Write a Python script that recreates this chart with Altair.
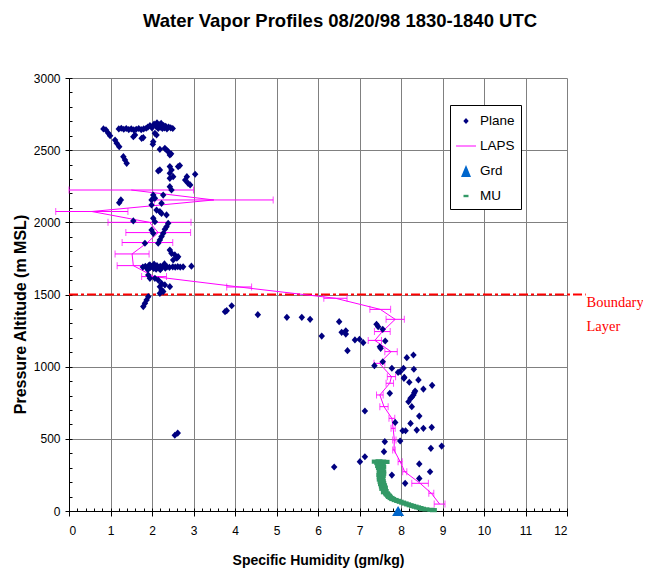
import altair as alt
import pandas as pd

FONT = "Liberation Sans"

series = ["Plane", "LAPS", "Grd", "MU"]
series_colors = ["#000080", "#FF00FF", "#0066CC", "#339966"]

x_ticks = list(range(0, 13))
y_ticks = list(range(0, 3001, 500))
x_minor = [round(i * 0.2, 1) for i in range(0, 61)]
y_minor = list(range(0, 3001, 100))
boundary_alt = 1500

plane_pts = [
    (0.83, 2647), (0.89, 2640), (0.95, 2617), (0.99, 2600),
    (1.11, 2570), (1.15, 2548), (1.21, 2524),
    (1.31, 2455), (1.35, 2432), (1.39, 2409),
    (1.20, 2647), (1.26, 2652), (1.32, 2645), (1.38, 2650), (1.44, 2643), (1.50, 2648),
    (1.56, 2640), (1.62, 2645), (1.68, 2650), (1.74, 2642), (1.80, 2648), (1.86, 2652),
    (1.90, 2660), (1.95, 2670), (2.00, 2655), (2.05, 2680), (2.10, 2665), (2.12, 2690),
    (2.15, 2650), (2.18, 2675), (2.20, 2660), (2.22, 2685), (2.25, 2650), (2.28, 2670),
    (2.30, 2655), (2.33, 2665), (2.36, 2648), (2.40, 2660), (2.45, 2655), (2.50, 2650),
    (1.59, 2605), (1.75, 2582), (1.79, 2587), (1.55, 2593), (2.07, 2617), (2.11, 2605),
    (2.03, 2559), (2.02, 2541),
    (2.19, 2506), (2.31, 2513), (2.39, 2490), (2.43, 2467), (2.35, 2501), (2.46, 2475),
    (2.15, 2356), (2.43, 2386), (2.47, 2363), (2.51, 2316), (2.63, 2386), (2.67, 2393),
    (2.43, 2247), (2.84, 2316), (2.80, 2293), (2.87, 2270), (2.92, 2259), (3.04, 2333),
    (2.43, 2340), (2.43, 2305), (2.19, 2363),
    (1.25, 2155), (1.21, 2136), (2.47, 2224), (2.03, 2189), (2.07, 2166), (2.27, 2189),
    (2.23, 2132), (1.99, 2155), (1.99, 2120), (2.11, 2085), (2.19, 2074), (2.23, 2062),
    (2.35, 2051), (2.03, 2028), (2.07, 2004), (1.55, 2010), (2.39, 1993), (2.35, 1970),
    (2.31, 1952), (2.27, 1924), (2.23, 1901), (2.19, 1878), (2.15, 1855), (1.99, 1947),
    (2.03, 1924), (1.83, 1855), (2.43, 1808), (2.47, 1785), (2.55, 1774), (2.63, 1762),
    (2.60, 1751), (2.51, 1739),
    (1.78, 1690), (1.84, 1695), (1.88, 1683), (1.92, 1700), (1.96, 1688), (2.00, 1695),
    (2.04, 1680), (2.08, 1692), (2.12, 1700), (2.16, 1685), (2.20, 1695), (2.24, 1688),
    (2.28, 1700), (2.32, 1683), (2.36, 1692), (2.42, 1688), (2.50, 1692), (2.56, 1690),
    (2.62, 1693), (2.68, 1690), (2.75, 1692), (2.95, 1696), (1.95, 1705), (2.05, 1710),
    (2.10, 1675), (2.20, 1672), (1.90, 1672), (2.30, 1712),
    (1.91, 1635), (1.95, 1612), (2.07, 1612), (2.15, 1600), (2.23, 1577), (2.19, 1554),
    (2.31, 1566), (2.43, 1554), (2.23, 1531), (2.19, 1508), (2.27, 1520),
    (1.91, 1485), (1.87, 1462), (1.83, 1439), (1.79, 1416),
    (3.76, 1381), (3.80, 1388), (3.92, 1422), (4.55, 1360), (5.25, 1342), (5.61, 1342),
    (5.81, 1328), (6.09, 1212), (6.51, 1312), (6.57, 1238), (6.67, 1249), (6.67, 1226),
    (6.71, 1111), (6.89, 1185), (7.00, 1190),
    (7.41, 1294), (7.45, 1277), (7.56, 1259), (7.62, 1178), (7.49, 1138), (7.51, 1127),
    (7.56, 1034), (7.36, 1007), (7.78, 989), (7.93, 961), (8.06, 989), (8.14, 1062),
    (8.30, 1081), (8.31, 982), (8.08, 926), (8.20, 892), (8.42, 908), (8.54, 845),
    (8.75, 871), (8.34, 831), (8.30, 804), (8.26, 788), (7.73, 815), (8.18, 757),
    (8.26, 723), (7.09, 1166), (7.98, 965), (8.07, 919), (8.32, 820), (8.23, 781),
    (7.13, 693), (8.44, 658), (8.23, 607), (7.86, 614), (8.04, 556), (8.11, 556),
    (8.38, 561), (8.54, 573), (8.74, 580), (7.61, 480), (7.98, 485), (7.59, 411),
    (7.13, 376), (7.01, 342), (8.72, 434), (8.98, 450), (8.44, 326), (8.70, 272),
    (7.78, 249), (8.44, 226), (8.10, 192), (6.39, 305), (2.55, 525), (2.62, 540),
]
plane_x = [p[0] for p in plane_pts]
plane_y = [p[1] for p in plane_pts]

laps_alt = [2224, 2155, 2075, 2000, 1929, 1860, 1781, 1700, 1624, 1552, 1474, 1397, 1328,
            1243, 1182, 1104, 1023, 931, 885, 804, 723, 642, 573, 492, 423, 342, 272, 192,
            123, 48]
laps_q = [1.50, 3.49, 0.55, 1.94, 2.15, 1.89, 1.52, 1.55, 2.05, 4.10, 6.42, 7.50, 7.86,
          7.55, 7.37, 7.76, 7.48, 7.77, 7.73, 7.49, 7.59, 7.78, 7.81, 7.84, 7.83, 7.98,
          8.09, 8.46, 8.73, 8.93]
laps_err = [1.50, 1.43, 0.87, 1.00, 0.78, 0.61, 0.41, 0.39, 0.30, 0.30, 0.28, 0.25, 0.22,
            0.19, 0.16, 0.15, 0.13, 0.10, 0.09, 0.08, 0.10, 0.07, 0.05, 0.04, 0.03, 0.05,
            0.05, 0.20, 0.06, 0.13]

mu_pts = [
    (7.38, 342), (7.47, 344), (7.56, 342), (7.64, 340),
    (7.44, 332), (7.55, 328), (7.50, 320), (7.46, 312), (7.56, 306),
    (7.48, 298), (7.54, 290), (7.50, 282), (7.56, 274),
    (7.50, 266), (7.56, 258), (7.49, 250), (7.55, 242), (7.50, 234),
    (7.53, 226), (7.50, 218), (7.55, 210), (7.52, 202), (7.56, 194),
    (7.53, 186), (7.58, 178), (7.55, 170), (7.60, 162), (7.56, 154),
    (7.60, 146), (7.62, 138), (7.60, 130), (7.65, 122), (7.67, 114),
    (7.70, 106), (7.72, 98), (7.76, 90), (7.80, 83), (7.86, 76),
    (7.92, 70), (7.98, 64), (8.04, 58), (8.10, 52), (8.16, 46),
    (8.22, 40), (8.28, 35), (8.34, 30), (8.40, 25), (8.46, 20),
    (8.52, 15), (8.60, 11), (8.72, 8), (8.78, 6),
]
mu_x = [p[0] for p in mu_pts]
mu_y = [p[1] for p in mu_pts]

grd_x = [7.93]
grd_y = [0]

plane_df = pd.DataFrame({"q": plane_x, "alt": plane_y, "series": "Plane"})
laps_df = pd.DataFrame({
    "q": laps_q, "alt": laps_alt,
    "lo": [q - e for q, e in zip(laps_q, laps_err)],
    "hi": [q + e for q, e in zip(laps_q, laps_err)],
    "i": list(range(len(laps_q))),
})
mu_df = pd.DataFrame({"q": mu_x, "alt": mu_y})
grd_df = pd.DataFrame({"q": grd_x, "alt": grd_y})
bl_df = pd.DataFrame({"alt": [boundary_alt], "label": ["Boundary\nLayer"]})

xs = alt.Scale(domain=[0, 12], nice=False, zero=False)
ys = alt.Scale(domain=[0, 3000], nice=False, zero=False)

shape_range = [
    "M0,-0.3L0.27,0L0,0.3L-0.27,0Z",
    "M-1,-0.05L1,-0.05L1,0.05L-1,0.05Z",
    "M0,-0.6L0.5,0.6L-0.5,0.6Z",
    "M-0.25,-0.12L0.25,-0.12L0.25,0.12L-0.25,0.12Z",
]

legend = alt.Legend(
    title=None, orient="none", legendX=381, legendY=27, direction="vertical",
    strokeColor="black", fillColor="white", padding=6, symbolSize=400,
    labelFont=FONT, labelFontSize=13.5, labelColor="black", rowPadding=8,
    labelOffset=4, symbolStrokeWidth=0,
)

x_main = alt.Axis(values=x_ticks, title="Specific Humidity (gm/kg)", grid=True,
                  tickSize=5, labelPadding=9, titlePadding=17, format="d")
y_main = alt.Axis(values=y_ticks, title="Pressure Altitude (m MSL)", grid=True,
                  tickSize=4, labelPadding=5, titleFontSize=16, titleX=-41, titleY=236,
                  format="d")
x_minor_axis = alt.Axis(orient="top", offset=-433, values=x_minor, labels=False,
                        domain=False, grid=False, ticks=True, tickSize=3, title=None)
y_minor_axis = alt.Axis(orient="right", offset=-498, values=y_minor, labels=False,
                        domain=False, grid=False, ticks=True, tickSize=3, title=None)

plane_layer = alt.Chart(plane_df).mark_point(filled=True, size=576, opacity=1).encode(
    x=alt.X("q:Q", scale=xs, axis=x_main),
    y=alt.Y("alt:Q", scale=ys, axis=y_main),
    color=alt.Color("series:N", scale=alt.Scale(domain=series, range=series_colors), legend=legend),
    shape=alt.Shape("series:N", scale=alt.Scale(domain=series, range=shape_range), legend=legend),
)

laps_line = alt.Chart(laps_df).mark_line(color="#FF00FF", strokeWidth=1).encode(
    x=alt.X("q:Q", scale=xs, axis=x_minor_axis),
    y=alt.Y("alt:Q", scale=ys, axis=y_minor_axis),
    order="i:Q",
)
laps_bar = alt.Chart(laps_df).mark_rule(color="#FF00FF", strokeWidth=1).encode(
    x=alt.X("lo:Q", scale=xs, axis=None), x2="hi:Q",
    y=alt.Y("alt:Q", scale=ys, axis=None),
)
laps_lo = alt.Chart(laps_df).mark_tick(orient="vertical", color="#FF00FF", thickness=1, size=7).encode(
    x=alt.X("lo:Q", scale=xs, axis=None), y=alt.Y("alt:Q", scale=ys, axis=None),
)
laps_hi = alt.Chart(laps_df).mark_tick(orient="vertical", color="#FF00FF", thickness=1, size=7).encode(
    x=alt.X("hi:Q", scale=xs, axis=None), y=alt.Y("alt:Q", scale=ys, axis=None),
)

mu_layer = alt.Chart(mu_df).mark_point(
    filled=True, opacity=1, color="#339966", size=49,
    shape="M-1,-0.6L1,-0.6L1,0.6L-1,0.6Z",
).encode(
    x=alt.X("q:Q", scale=xs, axis=None), y=alt.Y("alt:Q", scale=ys, axis=None),
)

grd_layer = alt.Chart(grd_df).mark_point(
    filled=True, opacity=1, color="#0066CC", size=144,
    shape="M0,-0.85L1,0.85L-1,0.85Z",
).encode(
    x=alt.X("q:Q", scale=xs, axis=None), y=alt.Y("alt:Q", scale=ys, axis=None),
)

bl_rule = alt.Chart(bl_df).mark_rule(color="#FF0000", strokeWidth=2, strokeDash=[9, 3, 3, 3]).encode(
    x=alt.datum(0, scale=xs, axis=None), x2=alt.datum(12.45),
    y=alt.Y("alt:Q", scale=ys, axis=None),
)
bl_text = alt.Chart(bl_df).mark_text(
    align="left", baseline="top", font="Liberation Serif", fontSize=14.5,
    color="#FF0000", lineBreak="\n", lineHeight=24, dy=1,
).encode(
    x=alt.datum(12.47, scale=xs, axis=None),
    y=alt.Y("alt:Q", scale=ys, axis=None),
    text="label:N",
)

chart = alt.layer(
    bl_rule, laps_bar, laps_lo, laps_hi, laps_line, mu_layer, plane_layer, grd_layer, bl_text,
).resolve_axis(x="independent", y="independent").properties(
    width=498, height=433,
    title=alt.TitleParams("Water Vapor Profiles 08/20/98 1830-1840 UTC", font=FONT,
                          fontSize=18.5, fontWeight="bold", color="black",
                          anchor="middle", frame="group", dx=22, offset=42),
    autosize=alt.AutoSizeParams(type="none"),
    padding={"left": 61, "top": 70, "right": 76, "bottom": 62},
).configure_view(stroke=None).configure_axis(
    labelFont=FONT, labelFontSize=12, labelColor="black",
    titleFont=FONT, titleFontSize=14, titleFontWeight="bold", titleColor="black",
    domainColor="black", tickColor="black", gridColor="#808080", gridOpacity=1,
    domainWidth=1, tickWidth=1, gridWidth=1,
)

chart.save("out.html", embed_options={"renderer": "svg", "actions": False})
